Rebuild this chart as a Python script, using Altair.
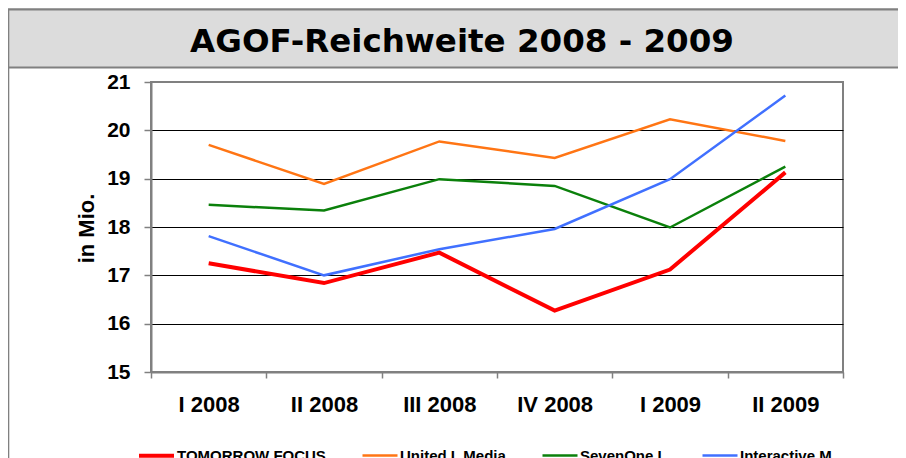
import altair as alt
import pandas as pd

# ---- data ----
quarters = ["I 2008", "II 2008", "III 2008", "IV 2008", "I 2009", "II 2009"]
series_names = ["TOMORROW FOCUS", "United I. Media", "SevenOne I.", "Interactive M."]
tomorrow_focus = [17.25, 16.84, 17.47, 16.27, 17.12, 19.13]
united_media = [19.70, 18.89, 19.77, 19.43, 20.23, 19.78]
sevenone = [18.46, 18.34, 18.99, 18.85, 17.99, 19.25]
interactive = [17.81, 17.00, 17.54, 17.96, 18.99, 20.72]
y_ticks = [15, 16, 17, 18, 19, 20, 21]

series_colors = ["#ff0000", "#ff7514", "#0b800b", "#4070ff"]
series_widths = [4, 2.5, 2.5, 2.5]
title_text = "AGOF-Reichweite 2008 - 2009"

# draw order: red line last (on top)
values_by_series = {
    "United I. Media": united_media,
    "SevenOne I.": sevenone,
    "Interactive M.": interactive,
    "TOMORROW FOCUS": tomorrow_focus,
}
rows = []
for name, vals in values_by_series.items():
    for q, v in zip(quarters, vals):
        rows.append({"quarter": q, "value": v, "series": name})
df = pd.DataFrame(rows)
one = pd.DataFrame({"a": [0]})

legend_def = alt.Legend(
    title=None,
    orient="none",
    legendX=-14,
    legendY=354,
    direction="horizontal",
    symbolType="stroke",
    symbolSize=1225,
    labelFont="Liberation Sans",
    labelFontWeight="bold",
    labelFontSize=15,
    labelColor="black",
    labelOffset=1,
    columnPadding=31,
    padding=0,
    labelLimit=300,
)

lines = alt.Chart(df).mark_line(strokeJoin="miter").encode(
    x=alt.X(
        "quarter:N",
        sort=quarters,
        bandPosition=0.5,
        scale=alt.Scale(type="band", paddingInner=0, paddingOuter=0),
        axis=alt.Axis(
            title=None,
            labelAngle=0,
            tickBand="extent",
            labelFont="Liberation Sans",
            labelFontWeight="bold",
            labelFontSize=22,
            labelColor="black",
            labelPadding=16,
            tickColor="#808080",
            tickSize=6,
            tickWidth=1.5,
            domainColor="#808080",
            domainWidth=2,
            grid=False,
        ),
    ),
    y=alt.Y(
        "value:Q",
        scale=alt.Scale(domain=[15, 21], nice=False, zero=False),
        axis=alt.Axis(
            values=y_ticks,
            title="in Mio.",
            titleFont="Liberation Sans",
            titleFontWeight="bold",
            titleFontSize=22,
            titleColor="black",
            titleAngle=270,
            titleAlign="center",
            titleBaseline="alphabetic",
            titleX=-58,
            titleY=146,
            labelFont="Liberation Sans",
            labelFontWeight="bold",
            labelFontSize=21,
            labelColor="black",
            labelPadding=14,
            tickColor="#808080",
            tickSize=7,
            tickWidth=1.5,
            domainColor="#808080",
            domainWidth=2,
            gridColor=alt.condition(
                "datum.value == 21 || datum.value == 15",
                alt.value("#808080"),
                alt.value("#000000"),
            ),
            gridWidth=1.2,
        ),
    ),
    color=alt.Color(
        "series:N",
        scale=alt.Scale(domain=series_names, range=series_colors),
        legend=legend_def,
    ),
    strokeWidth=alt.StrokeWidth(
        "series:N",
        scale=alt.Scale(type="ordinal", domain=series_names, range=series_widths),
        legend=legend_def,
    ),
)

outer_box = alt.Chart(one).mark_rect(
    fill="transparent", stroke="#808080", strokeWidth=2
).encode(
    x=alt.value(-142.7), x2=alt.value(790),
    y=alt.value(-72.5), y2=alt.value(420),
)

title_box = alt.Chart(one).mark_rect(
    fill="#dcdcdc", stroke="#808080", strokeWidth=2
).encode(
    x=alt.value(-142.7), x2=alt.value(790),
    y=alt.value(-72.5), y2=alt.value(-14.5),
)

title = alt.Chart(one).mark_text(
    text=title_text,
    font="DejaVu Sans",
    fontWeight="bold",
    fontSize=32.5,
    align="center",
    baseline="alphabetic",
    color="black",
).encode(x=alt.value(311), y=alt.value(-30.3))

chart = alt.layer(outer_box, title_box, title, lines).properties(
    width=692,
    height=290,
    padding={"left": 143, "top": 74, "right": 55, "bottom": 100},
    autosize=alt.AutoSizeParams(type="none"),
    background="white",
).configure_view(stroke="#808080", strokeWidth=2)

chart.save("out.html", embed_options={"renderer": "svg", "actions": False})
